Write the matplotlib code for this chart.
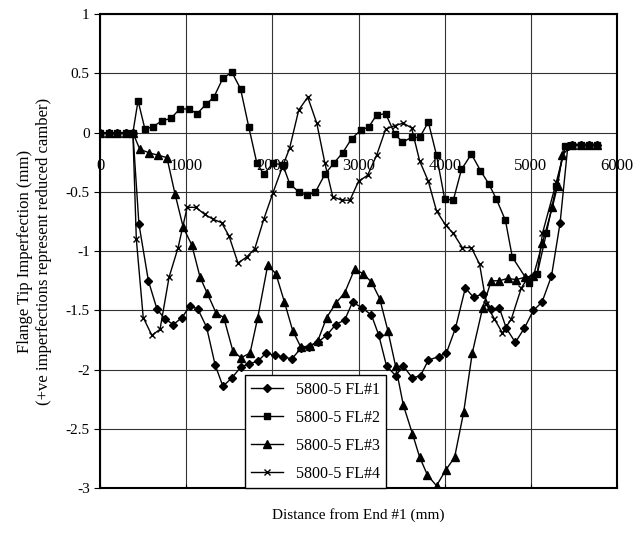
import matplotlib
matplotlib.use("Agg")
import matplotlib.pyplot as plt
import matplotlib.transforms as mtransforms

plt.rcParams['font.family'] = ['Liberation Serif', 'DejaVu Serif']

# 5800-5 FL#1 (diamonds)
x1 = [0, 100, 200, 300, 380, 450, 560, 660, 750, 850, 950, 1045, 1135, 1235, 1335, 1425,
      1530, 1630, 1725, 1830, 1925, 2030, 2120, 2225, 2330, 2420, 2525, 2630, 2735, 2840,
      2930, 3045, 3150, 3235, 3325, 3430, 3520, 3625, 3720, 3810, 3930, 4020, 4125, 4240,
      4335, 4440, 4540, 4635, 4715, 4820, 4925, 5030, 5130, 5240, 5340, 5430, 5480, 5585,
      5680, 5770]
y1 = [0, 0, 0, 0, 0, -0.77, -1.25, -1.49, -1.57, -1.62, -1.56, -1.46, -1.49, -1.64, -1.96,
      -2.14, -2.07, -1.98, -1.95, -1.93, -1.86, -1.88, -1.89, -1.91, -1.82, -1.81, -1.77,
      -1.71, -1.62, -1.58, -1.43, -1.48, -1.54, -1.71, -1.97, -2.05, -1.97, -2.07, -2.05,
      -1.92, -1.89, -1.86, -1.65, -1.31, -1.39, -1.36, -1.49, -1.48, -1.65, -1.77, -1.65,
      -1.50, -1.43, -1.21, -0.76, -0.11, -0.1, -0.1, -0.1, -0.1]

# 5800-5 FL#2 (squares)
x2 = [0, 100, 200, 300, 380, 440, 520, 615, 715, 820, 925, 1030, 1125, 1230, 1320, 1425,
      1530, 1630, 1725, 1820, 1900, 2005, 2120, 2200, 2305, 2400, 2500, 2610, 2710, 2815,
      2920, 3025, 3120, 3210, 3315, 3420, 3510, 3615, 3710, 3810, 3905, 4000, 4100, 4195,
      4310, 4415, 4510, 4600, 4705, 4785, 4980, 5075, 5180, 5295, 5400, 5480, 5585, 5680,
      5770]
y2 = [0, 0, 0, 0, 0, 0.27, 0.03, 0.05, 0.10, 0.12, 0.20, 0.20, 0.16, 0.24, 0.30, 0.46,
      0.51, 0.37, 0.05, -0.26, -0.35, -0.26, -0.27, -0.43, -0.50, -0.53, -0.50, -0.35,
      -0.26, -0.17, -0.05, 0.02, 0.05, 0.15, 0.16, -0.01, -0.08, -0.04, -0.04, 0.09, -0.19,
      -0.56, -0.57, -0.31, -0.18, -0.32, -0.43, -0.56, -0.74, -1.05, -1.27, -1.19, -0.85,
      -0.45, -0.11, -0.1, -0.1, -0.1, -0.1]

# 5800-5 FL#3 (triangles)
x3 = [0, 100, 200, 300, 380, 460, 570, 670, 775, 870, 965, 1065, 1160, 1240, 1345, 1435,
      1540, 1635, 1740, 1830, 1945, 2040, 2140, 2235, 2330, 2435, 2525, 2630, 2735, 2840,
      2955, 3050, 3150, 3245, 3340, 3430, 3520, 3625, 3710, 3800, 3905, 4010, 4115, 4220,
      4320, 4440, 4540, 4635, 4730, 4830, 4935, 5030, 5135, 5250, 5310, 5365, 5480, 5585,
      5680, 5770]
y3 = [0, 0, 0, 0, 0, -0.14, -0.17, -0.19, -0.21, -0.52, -0.80, -0.95, -1.22, -1.35, -1.52,
      -1.56, -1.84, -1.90, -1.86, -1.56, -1.12, -1.19, -1.43, -1.67, -1.81, -1.80, -1.76,
      -1.56, -1.44, -1.35, -1.15, -1.19, -1.26, -1.40, -1.67, -1.97, -2.30, -2.54, -2.74,
      -2.89, -2.98, -2.85, -2.74, -2.36, -1.86, -1.48, -1.25, -1.25, -1.23, -1.24, -1.22,
      -1.21, -0.93, -0.63, -0.45, -0.19, -0.1, -0.1, -0.1, -0.1]

# 5800-5 FL#4 (crosses)
x4 = [0, 100, 200, 300, 380, 420, 500, 600, 695, 800, 905, 1010, 1110, 1215, 1310, 1410,
      1495, 1600, 1700, 1795, 1900, 2005, 2110, 2200, 2305, 2410, 2515, 2610, 2700, 2805,
      2900, 3000, 3105, 3210, 3315, 3420, 3520, 3615, 3710, 3810, 3905, 4010, 4100, 4205,
      4310, 4405, 4485, 4575, 4670, 4775, 4890, 4970, 5075, 5135, 5295, 5400, 5480, 5585,
      5680, 5770]
y4 = [0, 0, 0, 0, 0, -0.90, -1.56, -1.71, -1.66, -1.22, -0.97, -0.63, -0.63, -0.69, -0.73,
      -0.76, -0.87, -1.10, -1.05, -0.98, -0.73, -0.51, -0.30, -0.13, 0.19, 0.30, 0.08,
      -0.26, -0.54, -0.57, -0.57, -0.41, -0.36, -0.19, 0.03, 0.06, 0.08, 0.04, -0.24,
      -0.41, -0.66, -0.78, -0.85, -0.97, -0.97, -1.11, -1.45, -1.57, -1.69, -1.57, -1.31,
      -1.22, -1.19, -0.85, -0.42, -0.12, -0.1, -0.1, -0.1, -0.1]

labels = ['5800-5 FL#1', '5800-5 FL#2', '5800-5 FL#3', '5800-5 FL#4']
xticks = [0, 1000, 2000, 3000, 4000, 5000, 6000]
yticks = [-3, -2.5, -2, -1.5, -1, -0.5, 0, 0.5, 1]

fig = plt.figure(figsize=(6.42, 5.46), dpi=100)
ax = fig.add_axes([0.156, 0.106, 0.805, 0.868])

ax.plot(x1, y1, color='black', lw=1, marker='D', ms=4.5, label=labels[0])
ax.plot(x2, y2, color='black', lw=1, marker='s', ms=5, label=labels[1])
ax.plot(x3, y3, color='black', lw=1, marker='^', ms=5.5, label=labels[2])
ax.plot(x4, y4, color='black', lw=1, marker='x', ms=5, mew=1, label=labels[3])

ax.set_xlim(0, 6000)
ax.set_ylim(-3, 1)
ax.set_xticks(xticks)
ax.set_yticks(yticks)
ax.set_yticklabels(['%g' % v for v in yticks], fontsize=11)
ax.tick_params(axis='x', labelbottom=False, length=3, direction='in')
ax.tick_params(axis='y', length=4, direction='out')
ax.grid(True, color='#333333', lw=0.8)
ax.set_axisbelow(True)
for s in ax.spines.values():
    s.set_linewidth(1.5)

# x tick labels sit just under the zero line
tr = mtransforms.offset_copy(ax.transData, fig=fig, x=0, y=-33, units='dots')
for v in xticks:
    ax.text(v, 0, str(v), transform=tr, ha='center', va='center', fontsize=12,
            clip_on=False)

ax.set_ylabel('Flange Tip Imperfection (mm)\n(+ve imperfections represent reduced camber)',
              fontsize=12, labelpad=10)
ax.set_xlabel('Distance from End #1 (mm)', fontsize=11, labelpad=14)

leg = ax.legend(loc='lower left', bbox_to_anchor=(0.28, 0.0), fontsize=11.5,
                frameon=True, fancybox=False, edgecolor='black', framealpha=1,
                borderaxespad=0, handlelength=2, labelspacing=0.75)
leg.get_frame().set_linewidth(1)

fig.savefig('out.png', dpi=100)
